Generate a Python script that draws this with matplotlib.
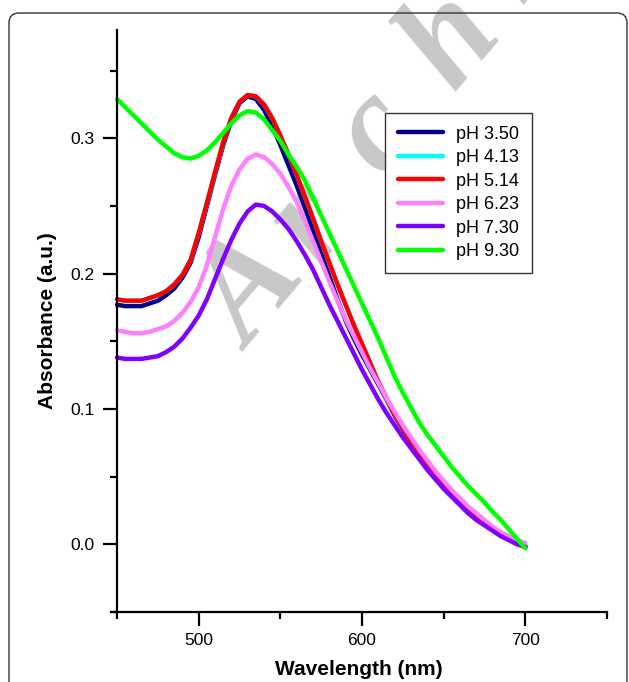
import matplotlib
matplotlib.use("Agg")
import matplotlib.pyplot as plt
import numpy as np
from matplotlib.ticker import MultipleLocator, FormatStrFormatter
from matplotlib.patches import FancyBboxPatch
from matplotlib.transforms import IdentityTransform

plt.rcParams['font.family'] = ['Liberation Sans', 'DejaVu Sans']

wavelength = list(range(450, 701, 5))

ph_350 = [0.177, 0.176, 0.176, 0.176, 0.178, 0.180, 0.184, 0.189, 0.197, 0.208,
          0.227, 0.250, 0.273, 0.295, 0.313, 0.326, 0.331, 0.329, 0.321, 0.309,
          0.295, 0.280, 0.265, 0.249, 0.232, 0.215, 0.198, 0.181, 0.165, 0.152,
          0.140, 0.129, 0.118, 0.107, 0.095, 0.085, 0.075, 0.066, 0.058, 0.051,
          0.044, 0.037, 0.031, 0.025, 0.020, 0.015, 0.011, 0.007, 0.004, 0.001,
          -0.002]
ph_514 = [0.181, 0.180, 0.180, 0.180, 0.182, 0.184, 0.187, 0.192, 0.199, 0.210,
          0.230, 0.252, 0.275, 0.297, 0.315, 0.327, 0.332, 0.331, 0.325, 0.315,
          0.302, 0.288, 0.273, 0.257, 0.241, 0.224, 0.208, 0.192, 0.177, 0.162,
          0.148, 0.134, 0.120, 0.108, 0.096, 0.086, 0.076, 0.067, 0.059, 0.052,
          0.045, 0.038, 0.032, 0.026, 0.021, 0.016, 0.012, 0.008, 0.005, 0.002,
          -0.001]
ph_413 = list(ph_514)
ph_623 = [0.158, 0.157, 0.156, 0.156, 0.157, 0.159, 0.161, 0.165, 0.171, 0.179,
          0.190, 0.206, 0.227, 0.248, 0.265, 0.277, 0.285, 0.288, 0.286, 0.281,
          0.274, 0.264, 0.253, 0.239, 0.224, 0.209, 0.194, 0.180, 0.166, 0.154,
          0.142, 0.130, 0.119, 0.108, 0.098, 0.088, 0.079, 0.070, 0.062, 0.054,
          0.047, 0.040, 0.034, 0.028, 0.023, 0.018, 0.013, 0.009, 0.006, 0.003,
          0.001]
ph_730 = [0.138, 0.137, 0.137, 0.137, 0.138, 0.139, 0.142, 0.146, 0.152, 0.160,
          0.169, 0.181, 0.196, 0.211, 0.225, 0.237, 0.246, 0.251, 0.250, 0.246,
          0.240, 0.233, 0.224, 0.214, 0.203, 0.190, 0.177, 0.165, 0.153, 0.141,
          0.129, 0.118, 0.107, 0.097, 0.088, 0.079, 0.071, 0.063, 0.055, 0.048,
          0.041, 0.035, 0.029, 0.023, 0.018, 0.014, 0.010, 0.006, 0.003, 0.000,
          -0.002]
ph_930 = [0.329, 0.323, 0.317, 0.311, 0.305, 0.299, 0.294, 0.289, 0.286, 0.285,
          0.287, 0.291, 0.297, 0.304, 0.311, 0.317, 0.320, 0.319, 0.314, 0.306,
          0.298, 0.288, 0.279, 0.269, 0.256, 0.243, 0.230, 0.217, 0.204, 0.191,
          0.178, 0.165, 0.152, 0.138, 0.124, 0.112, 0.101, 0.090, 0.081, 0.073,
          0.065, 0.057, 0.050, 0.043, 0.037, 0.031, 0.024, 0.018, 0.011, 0.004,
          -0.003]

series = [
    ("pH 3.50", ph_350, "#00008c"),
    ("pH 4.13", ph_413, "#00ffff"),
    ("pH 5.14", ph_514, "#ff0000"),
    ("pH 6.23", ph_623, "#ff80ff"),
    ("pH 7.30", ph_730, "#8000ff"),
    ("pH 9.30", ph_930, "#00ff00"),
]

fig = plt.figure(figsize=(6.29, 6.82), dpi=100)

# outer rounded frame (bottom edge runs off the picture)
frame = FancyBboxPatch((9, -30), 618, 699, boxstyle="round,pad=0,rounding_size=10",
                       transform=IdentityTransform(), fill=False, edgecolor='#333333',
                       linewidth=1.0)
fig.patches.append(frame)

# watermark, letters spread out along a slanted baseline, kept under the plot
ang = np.deg2rad(52)
x0, y0 = 250, 682 - 352
for i, ch in enumerate("Archive"):
    fig.text((x0 + i * 110 * np.cos(ang)) / 629, (y0 + i * 110 * np.sin(ang)) / 682, ch,
             family='Liberation Serif', style='italic', weight='bold', fontsize=100,
             color='#c8c8c8', rotation=50, rotation_mode='anchor', ha='left',
             va='baseline', zorder=-1)

ax = fig.add_axes([110.5 / 629, 70 / 682, (607 - 110.5) / 629, (612 - 30) / 682])
ax.patch.set_visible(False)

for label, vals, col in series:
    ax.plot(wavelength, vals, color=col, linewidth=3.2, label=label, solid_capstyle='round')

ax.set_xlim(446, 750)
ax.set_ylim(-0.05, 0.38)
ax.spines['top'].set_visible(False)
ax.spines['right'].set_visible(False)
ax.spines['left'].set_position(('data', 450))
for s in ('left', 'bottom'):
    ax.spines[s].set_linewidth(1.6)

ax.xaxis.set_major_locator(MultipleLocator(100))
ax.xaxis.set_minor_locator(MultipleLocator(50))
ax.yaxis.set_major_locator(MultipleLocator(0.1))
ax.yaxis.set_minor_locator(MultipleLocator(0.05))
ax.yaxis.set_major_formatter(FormatStrFormatter('%.1f'))
ax.tick_params(which='major', direction='out', length=10, width=1.6, labelsize=12.5)
ax.tick_params(which='minor', direction='out', length=5, width=1.6)
ax.tick_params(axis='y', pad=6)
ax.tick_params(axis='x', pad=5)

ax.set_xlabel("Wavelength (nm)", fontsize=15, fontweight='bold', labelpad=9)
ax.set_ylabel("Absorbance (a.u.)", fontsize=15, fontweight='bold', labelpad=10)

leg = ax.legend(loc='upper left', bbox_to_anchor=(385 / 629, 1 - 113 / 682),
                bbox_transform=fig.transFigure, fontsize=13, frameon=True, fancybox=False,
                framealpha=1, edgecolor='#333333', handlelength=2.5, handletextpad=0.75,
                labelspacing=0.36, borderpad=0.7, borderaxespad=0)
leg.get_frame().set_linewidth(1.0)

fig.savefig("out.png", dpi=100)
